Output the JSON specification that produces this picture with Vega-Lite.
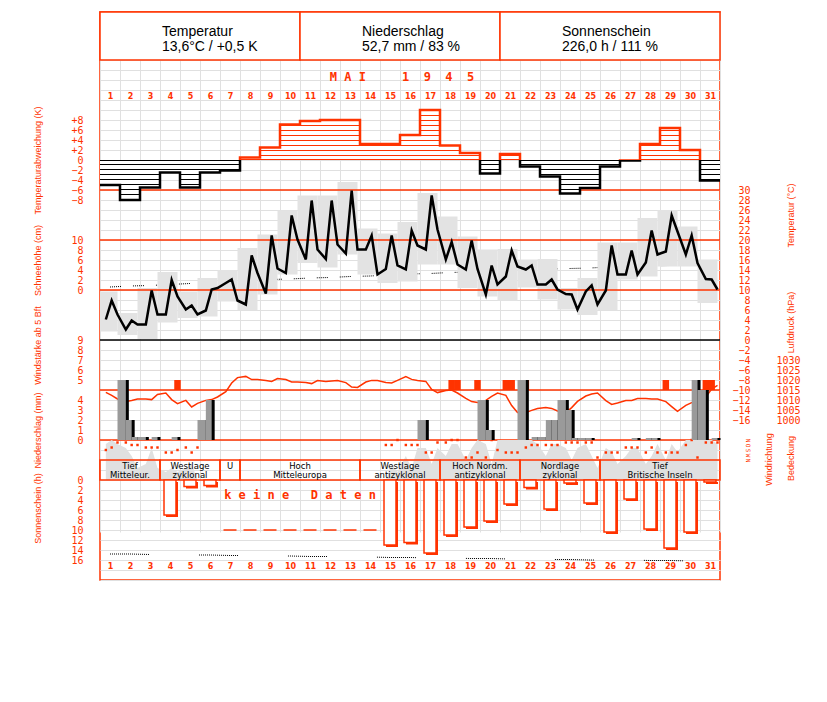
{
"$schema": "https://vega.github.io/schema/vega-lite/v6.json",
"width": 620, "height": 568,
"autosize": {"type": "none"},
"padding": {"left": 100, "top": 12, "right": 107, "bottom": 122},
"background": "white",
"title": {"text": "M A I\u00a0\u00a0\u00a0\u00a0\u00a01\u00a0\u00a09\u00a0\u00a04\u00a0\u00a05", "color": "#ff3300", "font": "DejaVu Sans Mono", "fontSize": 12, "fontWeight": "bold", "anchor": "middle", "frame": "group", "orient": "top", "offset": 0, "baseline": "middle", "dy": 78, "dx": -8},
"datasets": {
"daily": [
{"d":"1945-05-01T12:00","from":"1945-04-30T21:00","to":"1945-05-01T21:00","tmin":1.7,"tmax":9.7,"tnorm":10.6,"spot":14.8},
{"d":"1945-05-02T12:00","from":"1945-05-01T21:00","to":"1945-05-02T21:00","tmin":1.0,"tmax":5.4,"tnorm":10.8,"spot":14.8},
{"d":"1945-05-03T12:00","from":"1945-05-02T21:00","to":"1945-05-03T21:00","tmin":0.2,"tmax":10.4,"tnorm":10.9,"spot":14.9},
{"d":"1945-05-04T12:00","from":"1945-05-03T21:00","to":"1945-05-04T21:00","tmin":3.5,"tmax":13.6,"tnorm":11.1,"spot":14.9},
{"d":"1945-05-05T12:00","from":"1945-05-04T21:00","to":"1945-05-05T21:00","tmin":4.4,"tmax":9.7,"tnorm":11.3,"spot":15.0},
{"d":"1945-05-06T12:00","from":"1945-05-05T21:00","to":"1945-05-06T21:00","tmin":4.7,"tmax":12.4,"tnorm":11.5,"spot":15.0},
{"d":"1945-05-07T12:00","from":"1945-05-06T21:00","to":"1945-05-07T21:00","tmin":7.7,"tmax":14.0,"tnorm":11.7,"spot":15.1},
{"d":"1945-05-08T12:00","from":"1945-05-07T21:00","to":"1945-05-08T21:00","tmin":6.0,"tmax":18.4,"tnorm":11.9,"spot":15.1},
{"d":"1945-05-09T12:00","from":"1945-05-08T21:00","to":"1945-05-09T21:00","tmin":9.1,"tmax":21.1,"tnorm":12.1,"spot":15.2},
{"d":"1945-05-10T12:00","from":"1945-05-09T21:00","to":"1945-05-10T21:00","tmin":13.1,"tmax":25.9,"tnorm":12.2,"spot":15.2},
{"d":"1945-05-11T12:00","from":"1945-05-10T21:00","to":"1945-05-11T21:00","tmin":15.4,"tmax":28.9,"tnorm":12.4,"spot":15.3},
{"d":"1945-05-12T12:00","from":"1945-05-11T21:00","to":"1945-05-12T21:00","tmin":14.5,"tmax":28.9,"tnorm":12.5,"spot":15.3},
{"d":"1945-05-13T12:00","from":"1945-05-12T21:00","to":"1945-05-13T21:00","tmin":17.1,"tmax":31.6,"tnorm":12.7,"spot":15.4},
{"d":"1945-05-14T12:00","from":"1945-05-13T21:00","to":"1945-05-14T21:00","tmin":13.1,"tmax":22.3,"tnorm":12.8,"spot":15.4},
{"d":"1945-05-15T12:00","from":"1945-05-14T21:00","to":"1945-05-15T21:00","tmin":11.4,"tmax":21.3,"tnorm":13.0,"spot":15.5},
{"d":"1945-05-16T12:00","from":"1945-05-15T21:00","to":"1945-05-16T21:00","tmin":11.7,"tmax":23.6,"tnorm":13.2,"spot":15.5},
{"d":"1945-05-17T12:00","from":"1945-05-16T21:00","to":"1945-05-17T21:00","tmin":15.1,"tmax":29.4,"tnorm":13.3,"spot":15.6},
{"d":"1945-05-18T12:00","from":"1945-05-17T21:00","to":"1945-05-18T21:00","tmin":15.1,"tmax":24.7,"tnorm":13.5,"spot":15.6},
{"d":"1945-05-19T12:00","from":"1945-05-18T21:00","to":"1945-05-19T21:00","tmin":10.4,"tmax":20.7,"tnorm":13.6,"spot":15.7},
{"d":"1945-05-20T12:00","from":"1945-05-19T21:00","to":"1945-05-20T21:00","tmin":8.7,"tmax":18.1,"tnorm":13.8,"spot":15.7},
{"d":"1945-05-21T12:00","from":"1945-05-20T21:00","to":"1945-05-21T21:00","tmin":7.9,"tmax":18.2,"tnorm":13.9,"spot":15.8},
{"d":"1945-05-22T12:00","from":"1945-05-21T21:00","to":"1945-05-22T21:00","tmin":10.5,"tmax":16.1,"tnorm":14.1,"spot":15.8},
{"d":"1945-05-23T12:00","from":"1945-05-22T21:00","to":"1945-05-23T21:00","tmin":8.1,"tmax":16.2,"tnorm":14.2,"spot":15.9},
{"d":"1945-05-24T12:00","from":"1945-05-23T21:00","to":"1945-05-24T21:00","tmin":6.1,"tmax":10.4,"tnorm":14.3,"spot":15.9},
{"d":"1945-05-25T12:00","from":"1945-05-24T21:00","to":"1945-05-25T21:00","tmin":5.0,"tmax":12.4,"tnorm":14.4,"spot":16.0},
{"d":"1945-05-26T12:00","from":"1945-05-25T21:00","to":"1945-05-26T21:00","tmin":6.0,"tmax":19.5,"tnorm":14.6,"spot":16.0},
{"d":"1945-05-27T12:00","from":"1945-05-26T21:00","to":"1945-05-27T21:00","tmin":12.1,"tmax":19.5,"tnorm":14.6,"spot":16.0},
{"d":"1945-05-28T12:00","from":"1945-05-27T21:00","to":"1945-05-28T21:00","tmin":12.7,"tmax":24.4,"tnorm":14.8,"spot":16.1},
{"d":"1945-05-29T12:00","from":"1945-05-28T21:00","to":"1945-05-29T21:00","tmin":14.7,"tmax":26.0,"tnorm":14.9,"spot":16.1},
{"d":"1945-05-30T12:00","from":"1945-05-29T21:00","to":"1945-05-30T21:00","tmin":14.7,"tmax":22.7,"tnorm":15.0,"spot":16.2},
{"d":"1945-05-31T12:00","from":"1945-05-30T21:00","to":"1945-05-31T21:00","tmin":7.4,"tmax":16.1,"tnorm":15.1,"spot":16.2}
],
"anom": [
{"t":"1945-05-01T00:00","k":-5.0},
{"t":"1945-05-01T12:00","k":-5.0},{"t":"1945-05-02T12:00","k":-8.0},{"t":"1945-05-03T12:00","k":-5.5},{"t":"1945-05-04T12:00","k":-2.5},
{"t":"1945-05-05T12:00","k":-5.5},{"t":"1945-05-06T12:00","k":-2.5},{"t":"1945-05-07T12:00","k":-2.1},{"t":"1945-05-08T12:00","k":0.5},
{"t":"1945-05-09T12:00","k":2.5},{"t":"1945-05-10T12:00","k":7.1},{"t":"1945-05-11T12:00","k":7.8},{"t":"1945-05-12T12:00","k":8.0},
{"t":"1945-05-13T12:00","k":8.0},{"t":"1945-05-14T12:00","k":3.2},{"t":"1945-05-15T12:00","k":3.2},{"t":"1945-05-16T12:00","k":5.0},
{"t":"1945-05-17T12:00","k":10.0},{"t":"1945-05-18T12:00","k":2.9},{"t":"1945-05-19T12:00","k":1.4},{"t":"1945-05-20T12:00","k":-2.7},
{"t":"1945-05-21T12:00","k":1.2},{"t":"1945-05-22T12:00","k":-1.3},{"t":"1945-05-23T12:00","k":-3.3},{"t":"1945-05-24T12:00","k":-6.7},
{"t":"1945-05-25T12:00","k":-5.6},{"t":"1945-05-26T12:00","k":-1.3},{"t":"1945-05-27T12:00","k":-0.1},{"t":"1945-05-28T12:00","k":3.2},
{"t":"1945-05-29T12:00","k":6.4},{"t":"1945-05-30T12:00","k":2.0},{"t":"1945-05-31T12:00","k":-4.1},
{"t":"1945-06-01T00:00","k":-4.1}
],
"obs": [
{"t":"1945-05-01T07:00","temp":4.1,"hpa":1013.8},{"t":"1945-05-01T14:00","temp":7.9,"hpa":1012.3},{"t":"1945-05-01T21:00","temp":5.1,"hpa":1010.5},
{"t":"1945-05-02T07:00","temp":2.1,"hpa":1009.3},{"t":"1945-05-02T14:00","temp":3.9,"hpa":1009.8},{"t":"1945-05-02T21:00","temp":3.1,"hpa":1010.5},
{"t":"1945-05-03T07:00","temp":3.1,"hpa":1010.5},{"t":"1945-05-03T14:00","temp":9.9,"hpa":1010.2},{"t":"1945-05-03T21:00","temp":5.1,"hpa":1012.8},
{"t":"1945-05-04T07:00","temp":5.1,"hpa":1013.5},{"t":"1945-05-04T14:00","temp":12.0,"hpa":1010.2},{"t":"1945-05-04T21:00","temp":8.7,"hpa":1008.2},
{"t":"1945-05-05T07:00","temp":6.1,"hpa":1009.8},{"t":"1945-05-05T14:00","temp":6.9,"hpa":1006.5},{"t":"1945-05-05T21:00","temp":5.1,"hpa":1008.3},
{"t":"1945-05-06T07:00","temp":5.9,"hpa":1009.8},{"t":"1945-05-06T14:00","temp":10.1,"hpa":1010.2},{"t":"1945-05-06T21:00","temp":10.4,"hpa":1011.5},
{"t":"1945-05-07T07:00","temp":11.4,"hpa":1014.2},{"t":"1945-05-07T14:00","temp":12.1,"hpa":1018.5},{"t":"1945-05-07T21:00","temp":7.9,"hpa":1021.2},
{"t":"1945-05-08T07:00","temp":7.1,"hpa":1021.8},{"t":"1945-05-08T14:00","temp":16.9,"hpa":1020.2},{"t":"1945-05-08T21:00","temp":13.4,"hpa":1020.2},
{"t":"1945-05-09T07:00","temp":9.3,"hpa":1019.8},{"t":"1945-05-09T14:00","temp":20.9,"hpa":1019.3},{"t":"1945-05-09T21:00","temp":14.3,"hpa":1020.7},
{"t":"1945-05-10T07:00","temp":13.4,"hpa":1020.2},{"t":"1945-05-10T14:00","temp":24.9,"hpa":1019.0},{"t":"1945-05-10T21:00","temp":20.1,"hpa":1019.0},
{"t":"1945-05-11T07:00","temp":16.1,"hpa":1018.8},{"t":"1945-05-11T14:00","temp":27.9,"hpa":1018.2},{"t":"1945-05-11T21:00","temp":18.1,"hpa":1019.7},
{"t":"1945-05-12T07:00","temp":16.2,"hpa":1019.2},{"t":"1945-05-12T14:00","temp":27.9,"hpa":1019.5},{"t":"1945-05-12T21:00","temp":19.1,"hpa":1019.8},
{"t":"1945-05-13T07:00","temp":17.3,"hpa":1018.7},{"t":"1945-05-13T14:00","temp":29.9,"hpa":1016.5},{"t":"1945-05-13T21:00","temp":18.1,"hpa":1016.3},
{"t":"1945-05-14T07:00","temp":18.1,"hpa":1019.0},{"t":"1945-05-14T14:00","temp":20.9,"hpa":1019.8},{"t":"1945-05-14T21:00","temp":13.1,"hpa":1019.8},
{"t":"1945-05-15T07:00","temp":14.2,"hpa":1018.8},{"t":"1945-05-15T14:00","temp":20.9,"hpa":1018.5},{"t":"1945-05-15T21:00","temp":14.9,"hpa":1019.8},
{"t":"1945-05-16T07:00","temp":14.1,"hpa":1021.7},{"t":"1945-05-16T14:00","temp":21.9,"hpa":1020.3},{"t":"1945-05-16T21:00","temp":18.9,"hpa":1019.8},
{"t":"1945-05-17T07:00","temp":18.1,"hpa":1019.3},{"t":"1945-05-17T14:00","temp":28.9,"hpa":1015.3},{"t":"1945-05-17T21:00","temp":22.1,"hpa":1013.7},
{"t":"1945-05-18T07:00","temp":16.1,"hpa":1014.8},{"t":"1945-05-18T14:00","temp":19.6,"hpa":1015.0},{"t":"1945-05-18T21:00","temp":15.1,"hpa":1013.5},
{"t":"1945-05-19T07:00","temp":14.1,"hpa":1010.8},{"t":"1945-05-19T14:00","temp":19.9,"hpa":1009.2},{"t":"1945-05-19T21:00","temp":14.2,"hpa":1008.8},
{"t":"1945-05-20T07:00","temp":9.1,"hpa":1009.8},{"t":"1945-05-20T14:00","temp":14.9,"hpa":1011.8},{"t":"1945-05-20T21:00","temp":11.1,"hpa":1013.5},
{"t":"1945-05-21T07:00","temp":12.7,"hpa":1012.3},{"t":"1945-05-21T14:00","temp":17.9,"hpa":1007.2},{"t":"1945-05-21T21:00","temp":14.7,"hpa":1003.7},
{"t":"1945-05-22T07:00","temp":14.1,"hpa":1003.7},{"t":"1945-05-22T14:00","temp":14.9,"hpa":1004.8},{"t":"1945-05-22T21:00","temp":11.1,"hpa":1005.7},
{"t":"1945-05-23T07:00","temp":11.1,"hpa":1006.3},{"t":"1945-05-23T14:00","temp":12.1,"hpa":1005.8},{"t":"1945-05-23T21:00","temp":10.1,"hpa":1004.5},
{"t":"1945-05-24T07:00","temp":9.2,"hpa":1003.7},{"t":"1945-05-24T14:00","temp":9.1,"hpa":1006.2},{"t":"1945-05-24T21:00","temp":6.1,"hpa":1009.3},
{"t":"1945-05-25T07:00","temp":9.7,"hpa":1012.0},{"t":"1945-05-25T14:00","temp":10.9,"hpa":1013.0},{"t":"1945-05-25T21:00","temp":7.1,"hpa":1013.5},
{"t":"1945-05-26T07:00","temp":9.9,"hpa":1009.7},{"t":"1945-05-26T14:00","temp":18.9,"hpa":1007.8},{"t":"1945-05-26T21:00","temp":13.1,"hpa":1008.5},
{"t":"1945-05-27T07:00","temp":13.1,"hpa":1009.7},{"t":"1945-05-27T14:00","temp":17.9,"hpa":1009.8},{"t":"1945-05-27T21:00","temp":13.1,"hpa":1010.7},
{"t":"1945-05-28T07:00","temp":15.5,"hpa":1010.7},{"t":"1945-05-28T14:00","temp":21.9,"hpa":1010.5},{"t":"1945-05-28T21:00","temp":17.1,"hpa":1010.5},
{"t":"1945-05-29T07:00","temp":17.7,"hpa":1009.2},{"t":"1945-05-29T14:00","temp":24.9,"hpa":1006.7},{"t":"1945-05-29T21:00","temp":21.7,"hpa":1004.3},
{"t":"1945-05-30T07:00","temp":17.1,"hpa":1007.3},{"t":"1945-05-30T14:00","temp":20.9,"hpa":1008.7},{"t":"1945-05-30T21:00","temp":15.4,"hpa":1009.3},
{"t":"1945-05-31T07:00","temp":12.2,"hpa":1011.5},{"t":"1945-05-31T14:00","temp":12.1,"hpa":1015.5},{"t":"1945-05-31T21:00","temp":10.1,"hpa":1017.3}
],
"cw": [
{"t":"1945-05-01T07:00","dir":180,"cloud":9},{"t":"1945-05-01T14:00","dir":135,"cloud":10},{"t":"1945-05-01T21:00","dir":45,"cloud":9},
{"t":"1945-05-02T07:00","dir":45,"cloud":8},{"t":"1945-05-02T14:00","dir":90,"cloud":6},{"t":"1945-05-02T21:00","dir":90,"cloud":3},
{"t":"1945-05-03T07:00","dir":135,"cloud":4},{"t":"1945-05-03T14:00","dir":135,"cloud":8},{"t":"1945-05-03T21:00","dir":135,"cloud":3},
{"t":"1945-05-04T07:00","dir":225,"cloud":2},{"t":"1945-05-04T14:00","dir":225,"cloud":3},{"t":"1945-05-04T21:00","dir":180,"cloud":2},
{"t":"1945-05-05T07:00","dir":135,"cloud":3},{"t":"1945-05-05T14:00","dir":225,"cloud":4},{"t":"1945-05-05T21:00","dir":135,"cloud":0},
{"t":"1945-05-15T07:00","dir":90,"cloud":0},{"t":"1945-05-15T14:00","dir":90,"cloud":4},{"t":"1945-05-15T21:00","dir":0,"cloud":2},
{"t":"1945-05-16T07:00","dir":90,"cloud":6},{"t":"1945-05-16T14:00","dir":90,"cloud":3},{"t":"1945-05-16T21:00","dir":90,"cloud":8},
{"t":"1945-05-17T07:00","dir":225,"cloud":8},{"t":"1945-05-17T14:00","dir":225,"cloud":4},{"t":"1945-05-17T21:00","dir":45,"cloud":8},
{"t":"1945-05-18T07:00","dir":45,"cloud":6},{"t":"1945-05-18T14:00","dir":0,"cloud":9},{"t":"1945-05-18T21:00","dir":0,"cloud":9},
{"t":"1945-05-19T07:00","dir":315,"cloud":5},{"t":"1945-05-19T14:00","dir":315,"cloud":8},{"t":"1945-05-19T21:00","dir":225,"cloud":10},
{"t":"1945-05-20T07:00","dir":315,"cloud":9},{"t":"1945-05-20T14:00","dir":0,"cloud":4},{"t":"1945-05-20T21:00","dir":180,"cloud":10},
{"t":"1945-05-21T07:00","dir":225,"cloud":10},{"t":"1945-05-21T14:00","dir":225,"cloud":10},{"t":"1945-05-21T21:00","dir":225,"cloud":10},
{"t":"1945-05-22T07:00","dir":135,"cloud":10},{"t":"1945-05-22T14:00","dir":90,"cloud":10},{"t":"1945-05-22T21:00","dir":90,"cloud":9},
{"t":"1945-05-23T07:00","dir":90,"cloud":6},{"t":"1945-05-23T14:00","dir":90,"cloud":9},{"t":"1945-05-23T21:00","dir":90,"cloud":9},
{"t":"1945-05-24T07:00","dir":45,"cloud":8},{"t":"1945-05-24T14:00","dir":45,"cloud":5},{"t":"1945-05-24T21:00","dir":45,"cloud":8},
{"t":"1945-05-25T07:00","dir":45,"cloud":9},{"t":"1945-05-25T14:00","dir":45,"cloud":6},{"t":"1945-05-25T21:00","dir":315,"cloud":3},
{"t":"1945-05-26T07:00","dir":225,"cloud":8},{"t":"1945-05-26T14:00","dir":225,"cloud":7},{"t":"1945-05-26T21:00","dir":225,"cloud":4},
{"t":"1945-05-27T07:00","dir":135,"cloud":6},{"t":"1945-05-27T14:00","dir":135,"cloud":8},{"t":"1945-05-27T21:00","dir":135,"cloud":8},
{"t":"1945-05-28T07:00","dir":225,"cloud":4},{"t":"1945-05-28T14:00","dir":135,"cloud":6},{"t":"1945-05-28T21:00","dir":225,"cloud":9},
{"t":"1945-05-29T07:00","dir":225,"cloud":5},{"t":"1945-05-29T14:00","dir":225,"cloud":9},{"t":"1945-05-29T21:00","dir":225,"cloud":7},
{"t":"1945-05-30T07:00","dir":90,"cloud":10},{"t":"1945-05-30T14:00","dir":0,"cloud":10},{"t":"1945-05-30T21:00","dir":315,"cloud":10},
{"t":"1945-05-31T07:00","dir":45,"cloud":10},{"t":"1945-05-31T14:00","dir":45,"cloud":10},{"t":"1945-05-31T21:00","dir":45,"cloud":9}
],
"precip": [
{"from":"1945-05-01T21:00","to":"1945-05-02T07:00","mm":6.3},
{"from":"1945-05-02T07:00","to":"1945-05-02T14:00","mm":2.0},
{"from":"1945-05-02T14:00","to":"1945-05-02T21:00","mm":0.3},
{"from":"1945-05-02T21:00","to":"1945-05-03T07:00","mm":0.3},
{"from":"1945-05-03T14:00","to":"1945-05-03T21:00","mm":0.3},
{"from":"1945-05-04T14:00","to":"1945-05-04T21:00","mm":0.3},
{"from":"1945-05-05T21:00","to":"1945-05-06T07:00","mm":2.0},
{"from":"1945-05-06T07:00","to":"1945-05-06T14:00","mm":4.0},
{"from":"1945-05-16T21:00","to":"1945-05-17T07:00","mm":2.0},
{"from":"1945-05-19T21:00","to":"1945-05-20T07:00","mm":4.0},
{"from":"1945-05-20T07:00","to":"1945-05-20T14:00","mm":1.0},
{"from":"1945-05-21T21:00","to":"1945-05-22T07:00","mm":6.2},
{"from":"1945-05-22T14:00","to":"1945-05-22T21:00","mm":0.3},
{"from":"1945-05-22T21:00","to":"1945-05-23T07:00","mm":0.3},
{"from":"1945-05-23T07:00","to":"1945-05-23T14:00","mm":2.0},
{"from":"1945-05-23T14:00","to":"1945-05-23T21:00","mm":2.0},
{"from":"1945-05-23T21:00","to":"1945-05-24T07:00","mm":4.0},
{"from":"1945-05-24T07:00","to":"1945-05-24T14:00","mm":3.0},
{"from":"1945-05-24T14:00","to":"1945-05-24T21:00","mm":0.2},
{"from":"1945-05-24T21:00","to":"1945-05-25T07:00","mm":0.2},
{"from":"1945-05-25T07:00","to":"1945-05-25T14:00","mm":0.2},
{"from":"1945-05-27T14:00","to":"1945-05-27T21:00","mm":0.2},
{"from":"1945-05-28T07:00","to":"1945-05-28T14:00","mm":0.2},
{"from":"1945-05-28T14:00","to":"1945-05-28T21:00","mm":0.2},
{"from":"1945-05-30T14:00","to":"1945-05-30T21:00","mm":6.3},
{"from":"1945-05-30T21:00","to":"1945-05-31T07:00","mm":5.0},
{"from":"1945-05-31T14:00","to":"1945-05-31T21:00","mm":0.2}
],
"wind": [
{"t":"1945-05-04T21:00","bft":5},{"t":"1945-05-18T14:00","bft":5},{"t":"1945-05-18T21:00","bft":5},{"t":"1945-05-19T21:00","bft":5},
{"t":"1945-05-21T07:00","bft":5},{"t":"1945-05-21T14:00","bft":5},{"t":"1945-05-22T07:00","bft":5},{"t":"1945-05-29T07:00","bft":5},
{"t":"1945-05-31T07:00","bft":5},{"t":"1945-05-31T14:00","bft":5}
],
"sun": [
{"d":"1945-05-04T12:00","h":7.0},{"d":"1945-05-05T12:00","h":1.3},{"d":"1945-05-06T12:00","h":1.1},
{"d":"1945-05-15T12:00","h":13.0},{"d":"1945-05-16T12:00","h":12.5},{"d":"1945-05-17T12:00","h":14.6},{"d":"1945-05-18T12:00","h":11.0},
{"d":"1945-05-19T12:00","h":9.4},{"d":"1945-05-20T12:00","h":8.2},{"d":"1945-05-21T12:00","h":4.8},{"d":"1945-05-22T12:00","h":1.5},
{"d":"1945-05-23T12:00","h":5.8},{"d":"1945-05-24T12:00","h":0.6},{"d":"1945-05-25T12:00","h":4.6},{"d":"1945-05-26T12:00","h":10.4},
{"d":"1945-05-27T12:00","h":3.8},{"d":"1945-05-28T12:00","h":9.8},{"d":"1945-05-29T12:00","h":13.6},{"d":"1945-05-30T12:00","h":10.4},
{"d":"1945-05-31T12:00","h":0.4}
],
"nodata": [
{"d":"1945-05-07T12:00","h":10},{"d":"1945-05-08T12:00","h":10},{"d":"1945-05-09T12:00","h":10},{"d":"1945-05-10T12:00","h":10},
{"d":"1945-05-11T12:00","h":10},{"d":"1945-05-12T12:00","h":10},{"d":"1945-05-13T12:00","h":10},{"d":"1945-05-14T12:00","h":10}
],
"gwl": [
{"start":"1945-05-01T00:00","end":"1945-05-04T00:00","label":"Tief\nMitteleur."},
{"start":"1945-05-04T00:00","end":"1945-05-07T00:00","label":"Westlage\nzyklonal"},
{"start":"1945-05-07T00:00","end":"1945-05-08T00:00","label":"U\n\u00a0"},
{"start":"1945-05-08T00:00","end":"1945-05-14T00:00","label":"Hoch\nMitteleuropa"},
{"start":"1945-05-14T00:00","end":"1945-05-18T00:00","label":"Westlage\nantizyklonal"},
{"start":"1945-05-18T00:00","end":"1945-05-22T00:00","label":"Hoch Nordm.\nantizyklonal"},
{"start":"1945-05-22T00:00","end":"1945-05-26T00:00","label":"Nordlage\nzyklonal"},
{"start":"1945-05-26T00:00","end":"1945-06-01T00:00","label":"Tief\nBritische Inseln"}
],
"header": [
{"start":"1945-05-01T00:00","end":"1945-05-11T00:00","label":"Temperatur\n13,6°C / +0,5 K"},
{"start":"1945-05-11T00:00","end":"1945-05-21T00:00","label":"Niederschlag\n52,7 mm / 83 %"},
{"start":"1945-05-21T00:00","end":"1945-06-01T00:00","label":"Sonnenschein\n226,0 h / 111 %"}
],
"snowref": [{"cm":0},{"cm":10}],
"precref": [{"mm":0},{"mm":5}]
},
"resolve": {"scale": {"y": "independent"}, "axis": {"x": "independent", "y": "independent"}},
"layer": [
{
 "data": {"name": "daily"},
 "mark": {"type": "line", "stroke": "black", "strokeWidth": 1, "strokeDash": [1,1,1,1,1,1,1,1,1,1,1,12]},
 "encoding": {
  "x": {"field": "d", "type": "temporal", "scale": {"domain": [{"year":1945,"month":5,"date":1},{"year":1945,"month":6,"date":1}], "padding": 0},
        "axis": {"orient": "bottom", "grid": true, "gridColor": "#e0e0e0", "gridWidth": 1, "labels": false, "tickCount": {"interval": "day", "step": 1}, "title": null}},
  "y": {"field": "tnorm", "type": "quantitative", "scale": {"domain": [-48,56], "range": [568,48], "nice": false, "zero": false},
        "axis": {"orient": "right", "grid": true, "gridColor": "#e0e0e0", "gridWidth": 1,
                 "values": [-48,-46,-44,-42,-40,-38,-36,-34,-32,-30,-28,-26,-24,-22,-20,-18,-16,-14,-12,-10,-8,-6,-4,-2,0,2,4,6,8,10,12,14,16,18,20,22,24,26,28,30,32,34,36,38,40,42,44,46,48,50,52,54,56],
                 "labelExpr": "datum.value >= -16 && datum.value <= 30 ? datum.label : ''",
                 "labelAlign": "right", "labelPadding": 30, "labelBaseline": "middle",
                 "title": "Temperatur (°C)", "titleX": 70, "titleY": 203}}
 }
},
{
 "data": {"name": "daily"},
 "mark": {"type": "rect", "fill": "#e3e3e3", "clip": true},
 "encoding": {
  "x": {"field": "from", "type": "temporal", "scale": {"domain": [{"year":1945,"month":5,"date":1},{"year":1945,"month":6,"date":1}], "padding": 0},
        "axis": {"orient": "bottom", "offset": -14, "tickCount": {"interval": "day", "step": 1}, "format": "%-d",
                 "labelExpr": "datum.value >= datetime(1945,5,1) ? '' : datum.label",
                 "labelOffset": 10, "labelAlign": "center", "labelBaseline": "middle", "labelPadding": 0,
                 "labelFont": "DejaVu Sans", "labelFontSize": 8, "labelFontWeight": "bold", "labelFlush": false, "title": null}},
  "x2": {"field": "to"},
  "y": {"field": "tmin", "type": "quantitative", "scale": {"domain": [-48,56], "range": [568,48], "nice": false, "zero": false}, "axis": null},
  "y2": {"field": "tmax"}
 }
},
{
 "data": {"values": [{}]},
 "mark": {"type": "rule", "color": "#ff3300", "strokeWidth": 1.5},
 "encoding": {"y": {"datum": 30, "scale": {"domain": [-48,56], "range": [568,48], "nice": false, "zero": false}, "axis": null}}
},
{
 "data": {"values": [{}]},
 "mark": {"type": "rule", "color": "black", "strokeWidth": 1.5},
 "encoding": {"y": {"datum": 0, "scale": {"domain": [-48,56], "range": [568,48], "nice": false, "zero": false}, "axis": null}}
},
{
 "data": {"name": "snowref"},
 "mark": {"type": "rule", "color": "#ff3300", "strokeWidth": 1.5},
 "encoding": {"y": {"field": "cm", "type": "quantitative", "scale": {"domain": [0,10], "range": [278,228], "nice": false, "zero": false},
   "axis": {"orient": "left", "values": [0,2,4,6,8,10], "title": "Schneehöhe (cm)", "titleX": -63, "titleY": 248}}}
},
{
 "data": {"name": "precref"},
 "mark": {"type": "rule", "color": "#ff3300", "strokeWidth": 1.5},
 "encoding": {"y": {"field": "mm", "type": "quantitative", "scale": {"domain": [0,6], "range": [428,368], "nice": false, "zero": false}, "axis": null}}
},
{
 "data": {"name": "anom"},
 "mark": {"type": "area", "interpolate": "step",
   "fill": {"gradient": "linear", "x1": 0, "y1": 0, "x2": 0, "y2": 1, "stops": [
    {"offset": 0, "color": "white"},
    {"offset": 0.0556, "color": "white"}, {"offset": 0.0556, "color": "#ff3300"}, {"offset": 0.0667, "color": "#ff3300"}, {"offset": 0.0667, "color": "white"},
    {"offset": 0.1111, "color": "white"}, {"offset": 0.1111, "color": "#ff3300"}, {"offset": 0.1222, "color": "#ff3300"}, {"offset": 0.1222, "color": "white"},
    {"offset": 0.1667, "color": "white"}, {"offset": 0.1667, "color": "#ff3300"}, {"offset": 0.1778, "color": "#ff3300"}, {"offset": 0.1778, "color": "white"},
    {"offset": 0.2222, "color": "white"}, {"offset": 0.2222, "color": "#ff3300"}, {"offset": 0.2333, "color": "#ff3300"}, {"offset": 0.2333, "color": "white"},
    {"offset": 0.2778, "color": "white"}, {"offset": 0.2778, "color": "#ff3300"}, {"offset": 0.2889, "color": "#ff3300"}, {"offset": 0.2889, "color": "white"},
    {"offset": 0.3333, "color": "white"}, {"offset": 0.3333, "color": "#ff3300"}, {"offset": 0.3444, "color": "#ff3300"}, {"offset": 0.3444, "color": "white"},
    {"offset": 0.3889, "color": "white"}, {"offset": 0.3889, "color": "#ff3300"}, {"offset": 0.4, "color": "#ff3300"}, {"offset": 0.4, "color": "white"},
    {"offset": 0.4444, "color": "white"}, {"offset": 0.4444, "color": "#ff3300"}, {"offset": 0.4556, "color": "#ff3300"}, {"offset": 0.4556, "color": "white"},
    {"offset": 0.5, "color": "white"}, {"offset": 0.5, "color": "#ff3300"}, {"offset": 0.5111, "color": "#ff3300"}, {"offset": 0.5111, "color": "white"},
    {"offset": 0.5444, "color": "white"}, {"offset": 0.5444, "color": "#ff3300"}, {"offset": 0.5556, "color": "#ff3300"}, {"offset": 0.5556, "color": "black"}, {"offset": 0.5667, "color": "black"}, {"offset": 0.5667, "color": "white"},
    {"offset": 0.6, "color": "white"}, {"offset": 0.6, "color": "black"}, {"offset": 0.6111, "color": "black"}, {"offset": 0.6111, "color": "white"},
    {"offset": 0.6556, "color": "white"}, {"offset": 0.6556, "color": "black"}, {"offset": 0.6667, "color": "black"}, {"offset": 0.6667, "color": "white"},
    {"offset": 0.7111, "color": "white"}, {"offset": 0.7111, "color": "black"}, {"offset": 0.7222, "color": "black"}, {"offset": 0.7222, "color": "white"},
    {"offset": 0.7667, "color": "white"}, {"offset": 0.7667, "color": "black"}, {"offset": 0.7778, "color": "black"}, {"offset": 0.7778, "color": "white"},
    {"offset": 0.8222, "color": "white"}, {"offset": 0.8222, "color": "black"}, {"offset": 0.8333, "color": "black"}, {"offset": 0.8333, "color": "white"},
    {"offset": 0.8778, "color": "white"}, {"offset": 0.8778, "color": "black"}, {"offset": 0.8889, "color": "black"}, {"offset": 0.8889, "color": "white"},
    {"offset": 0.9333, "color": "white"}, {"offset": 0.9333, "color": "black"}, {"offset": 0.9444, "color": "black"}, {"offset": 0.9444, "color": "white"},
    {"offset": 1, "color": "white"}]}},
 "encoding": {
  "x": {"field": "t", "type": "temporal", "scale": {"domain": [{"year":1945,"month":5,"date":1},{"year":1945,"month":6,"date":1}], "padding": 0}, "axis": null},
  "y": {"field": "k", "type": "quantitative", "scale": {"domain": [-8,10], "range": [188,98], "nice": false, "zero": false},
        "axis": {"orient": "left", "values": [-8,-6,-4,-2,0,2,4,6,8], "labelExpr": "datum.value > 0 ? '+' + datum.label : datum.label",
                 "title": "Temperaturabweichung (K)", "titleX": -63, "titleY": 148}},
  "y2": {"datum": 0}
 }
},
{
 "data": {"name": "anom"},
 "mark": {"type": "line", "interpolate": "step", "strokeWidth": 2.5,
   "stroke": {"gradient": "linear", "x1": 0, "y1": 0, "x2": 0, "y2": 1, "stops": [
     {"offset": 0, "color": "#ff3300"}, {"offset": 0.5556, "color": "#ff3300"}, {"offset": 0.5556, "color": "black"}, {"offset": 1, "color": "black"}]}},
 "encoding": {
  "x": {"field": "t", "type": "temporal", "scale": {"domain": [{"year":1945,"month":5,"date":1},{"year":1945,"month":6,"date":1}], "padding": 0}, "axis": null},
  "y": {"field": "k", "type": "quantitative", "scale": {"domain": [-8,10], "range": [188,98], "nice": false, "zero": false}, "axis": null}
 }
},
{
 "data": {"name": "obs"},
 "mark": {"type": "line", "stroke": "black", "strokeWidth": 2.5},
 "encoding": {
  "x": {"field": "t", "type": "temporal", "scale": {"domain": [{"year":1945,"month":5,"date":1},{"year":1945,"month":6,"date":1}], "padding": 0},
        "axis": {"orient": "top", "offset": -84, "tickCount": {"interval": "day", "step": 1}, "format": "%-d",
                 "labelExpr": "datum.value >= datetime(1945,5,1) ? '' : datum.label",
                 "labelOffset": 10, "labelAlign": "center", "labelBaseline": "middle", "labelPadding": 0,
                 "labelFont": "DejaVu Sans", "labelFontSize": 8, "labelFontWeight": "bold", "labelFlush": false, "title": null}},
  "y": {"field": "temp", "type": "quantitative", "scale": {"domain": [-48,56], "range": [568,48], "nice": false, "zero": false}, "axis": null}
 }
},
{
 "data": {"name": "cw"},
 "mark": {"type": "area", "fill": "#e0e0e0"},
 "encoding": {
  "x": {"field": "t", "type": "temporal", "scale": {"domain": [{"year":1945,"month":5,"date":1},{"year":1945,"month":6,"date":1}], "padding": 0}, "axis": null},
  "y": {"field": "cloud", "type": "quantitative", "scale": {"domain": [0,10], "range": [468,428], "nice": false, "zero": false},
        "axis": {"orient": "right", "labels": false, "title": "Bedeckung", "titleX": 70, "titleY": 446}},
  "y2": {"datum": 0}
 }
},
{
 "data": {"name": "cw"},
 "mark": {"type": "square", "size": 6, "color": "#ff3300", "opacity": 1},
 "encoding": {
  "x": {"field": "t", "type": "temporal", "scale": {"domain": [{"year":1945,"month":5,"date":1},{"year":1945,"month":6,"date":1}], "padding": 0}, "axis": null},
  "y": {"field": "dir", "type": "quantitative", "scale": {"domain": [0,360], "range": [428,448], "nice": false, "zero": false},
        "axis": {"orient": "right", "values": [0,90,180,270,360],
                 "labelExpr": "datum.value == 90 ? 'O' : datum.value == 180 ? 'S' : datum.value == 270 ? 'W' : 'N'",
                 "labelAngle": 90, "labelFontSize": 6, "labelPadding": 27, "labelAlign": "center", "labelBaseline": "middle",
                 "title": "Windrichtung", "titleX": 48, "titleY": 447}}
 }
},
{
 "data": {"name": "obs"},
 "mark": {"type": "line", "stroke": "#ff3300", "strokeWidth": 1.5},
 "encoding": {
  "x": {"field": "t", "type": "temporal", "scale": {"domain": [{"year":1945,"month":5,"date":1},{"year":1945,"month":6,"date":1}], "padding": 0}, "axis": null},
  "y": {"field": "hpa", "type": "quantitative", "scale": {"domain": [1000,1030], "range": [408,348], "nice": false, "zero": false},
        "axis": {"orient": "right", "values": [1000,1005,1010,1015,1020,1025,1030], "format": "d", "labelAlign": "right", "labelPadding": 80,
                 "title": "Luftdruck (hPa)", "titleX": 70, "titleY": 310}}
 }
},
{
 "data": {"name": "wind"},
 "mark": {"type": "bar", "width": 6.5, "color": "#ff3300"},
 "encoding": {
  "x": {"field": "t", "type": "temporal", "scale": {"domain": [{"year":1945,"month":5,"date":1},{"year":1945,"month":6,"date":1}], "padding": 0}, "axis": null},
  "y": {"field": "bft", "type": "quantitative", "scale": {"domain": [4,9], "range": [378,328], "nice": false, "zero": false},
        "axis": {"orient": "left", "values": [5,6,7,8,9], "title": "Windstärke ab 5 Bft", "titleX": -63, "titleY": 333}},
  "y2": {"datum": 4}
 }
},
{
 "data": {"name": "precip"},
 "mark": {"type": "bar", "color": "black", "xOffset": 3, "x2Offset": 3},
 "encoding": {
  "x": {"field": "from", "type": "temporal", "scale": {"domain": [{"year":1945,"month":5,"date":1},{"year":1945,"month":6,"date":1}], "padding": 0}, "axis": null},
  "x2": {"field": "to"},
  "y": {"field": "mm", "type": "quantitative", "scale": {"domain": [0,6], "range": [428,368], "nice": false, "zero": false, "clamp": true}, "axis": null},
  "y2": {"datum": 0}
 }
},
{
 "data": {"name": "precip"},
 "mark": {"type": "bar", "color": "#9a9a9a"},
 "encoding": {
  "x": {"field": "from", "type": "temporal", "scale": {"domain": [{"year":1945,"month":5,"date":1},{"year":1945,"month":6,"date":1}], "padding": 0}, "axis": null},
  "x2": {"field": "to"},
  "y": {"field": "mm", "type": "quantitative", "scale": {"domain": [0,6], "range": [428,368], "nice": false, "zero": false, "clamp": true},
        "axis": {"orient": "left", "values": [0,1,2,3,4], "title": "Niederschlag (mm)", "titleX": -63, "titleY": 418}},
  "y2": {"datum": 0}
 }
},
{
 "data": {"name": "gwl", "format": {"parse": {"start": "date", "end": "date"}}},
 "mark": {"type": "rect", "filled": false, "stroke": "#ff3300", "strokeWidth": 1.5},
 "encoding": {
  "x": {"field": "start", "type": "temporal", "scale": {"domain": [{"year":1945,"month":5,"date":1},{"year":1945,"month":6,"date":1}], "padding": 0}, "axis": null},
  "x2": {"field": "end"},
  "y": {"datum": "g", "type": "nominal", "scale": {"type": "band", "domain": ["g"], "range": [448,468], "paddingInner": 0, "paddingOuter": 0}, "axis": null}
 }
},
{
 "data": {"name": "gwl", "format": {"parse": {"start": "date", "end": "date"}}},
 "transform": [{"fold": ["start", "end"], "as": ["k", "v"]}, {"aggregate": [{"op": "mean", "field": "v", "as": "mid"}], "groupby": ["label"]}],
 "mark": {"type": "text", "lineBreak": "\n", "font": "DejaVu Sans", "fontSize": 8.5, "lineHeight": 9, "color": "black", "align": "center", "baseline": "middle", "dy": -4},
 "encoding": {
  "x": {"field": "mid", "type": "temporal", "scale": {"domain": [{"year":1945,"month":5,"date":1},{"year":1945,"month":6,"date":1}], "padding": 0}, "axis": null},
  "y": {"datum": "g", "type": "nominal", "scale": {"type": "band", "domain": ["g"], "range": [448,468], "paddingInner": 0, "paddingOuter": 0}, "axis": null},
  "text": {"field": "label"}
 }
},
{
 "data": {"name": "daily"},
 "mark": {"type": "line", "stroke": "black", "strokeWidth": 1, "strokeDash": [1,1,1,1,1,1,1,1,1,1,1,1,1,1,1,1,1,1,1,1,1,1,1,1,1,1,1,1,1,1,1,1,1,1,1,1,1,1,1,50]},
 "encoding": {
  "x": {"field": "d", "type": "temporal", "scale": {"domain": [{"year":1945,"month":5,"date":1},{"year":1945,"month":6,"date":1}], "padding": 0}, "axis": null},
  "y": {"field": "spot", "type": "quantitative", "scale": {"domain": [0,16], "range": [468,548], "nice": false, "zero": false}, "axis": null}
 }
},
{
 "data": {"name": "sun"},
 "mark": {"type": "bar", "width": 12, "color": "#ff3300", "xOffset": 2, "yOffset": 2, "y2Offset": 2},
 "encoding": {
  "x": {"field": "d", "type": "temporal", "scale": {"domain": [{"year":1945,"month":5,"date":1},{"year":1945,"month":6,"date":1}], "padding": 0}, "axis": null},
  "y": {"field": "h", "type": "quantitative", "scale": {"domain": [0,16], "range": [468,548], "nice": false, "zero": false}, "axis": null},
  "y2": {"datum": 0}
 }
},
{
 "data": {"name": "sun"},
 "mark": {"type": "bar", "width": 12, "fill": "white", "stroke": "#ff3300", "strokeWidth": 1.5},
 "encoding": {
  "x": {"field": "d", "type": "temporal", "scale": {"domain": [{"year":1945,"month":5,"date":1},{"year":1945,"month":6,"date":1}], "padding": 0}, "axis": null},
  "y": {"field": "h", "type": "quantitative", "scale": {"domain": [0,16], "range": [468,548], "nice": false, "zero": false},
        "axis": {"orient": "left", "values": [0,2,4,6,8,10,12,14,16], "title": "Sonnenschein (h)", "titleX": -63, "titleY": 496}},
  "y2": {"datum": 0}
 }
},
{
 "data": {"name": "nodata"},
 "mark": {"type": "tick", "orient": "horizontal", "size": 13, "thickness": 1.5, "color": "#ff3300", "opacity": 1},
 "encoding": {
  "x": {"field": "d", "type": "temporal", "scale": {"domain": [{"year":1945,"month":5,"date":1},{"year":1945,"month":6,"date":1}], "padding": 0}, "axis": null},
  "y": {"field": "h", "type": "quantitative", "scale": {"domain": [0,16], "range": [468,548], "nice": false, "zero": false}, "axis": null}
 }
},
{
 "data": {"values": [{"label": "k e i n e\u00a0\u00a0\u00a0D a t e n"}]},
 "mark": {"type": "text", "font": "DejaVu Sans Mono", "fontSize": 12, "fontWeight": "bold", "color": "#ff3300", "align": "center", "baseline": "middle"},
 "encoding": {
  "x": {"datum": {"year": 1945, "month": 5, "date": 11}, "type": "temporal", "scale": {"domain": [{"year":1945,"month":5,"date":1},{"year":1945,"month":6,"date":1}], "padding": 0}, "axis": null},
  "y": {"datum": 3, "type": "quantitative", "scale": {"domain": [0,16], "range": [468,548], "nice": false, "zero": false}, "axis": null},
  "text": {"field": "label"}
 }
},
{
 "data": {"name": "header", "format": {"parse": {"start": "date", "end": "date"}}},
 "mark": {"type": "rect", "fill": "white", "stroke": "#ff3300", "strokeWidth": 1.5},
 "encoding": {
  "x": {"field": "start", "type": "temporal", "scale": {"domain": [{"year":1945,"month":5,"date":1},{"year":1945,"month":6,"date":1}], "padding": 0}, "axis": null},
  "x2": {"field": "end"},
  "y": {"datum": "h", "type": "nominal", "scale": {"type": "band", "domain": ["h"], "range": [0,48], "paddingInner": 0, "paddingOuter": 0}, "axis": null}
 }
},
{
 "data": {"name": "header", "format": {"parse": {"start": "date", "end": "date"}}},
 "mark": {"type": "text", "lineBreak": "\n", "font": "Liberation Sans", "fontSize": 14, "lineHeight": 15, "color": "black", "align": "left", "baseline": "middle", "dx": 62, "dy": -4},
 "encoding": {
  "x": {"field": "start", "type": "temporal", "scale": {"domain": [{"year":1945,"month":5,"date":1},{"year":1945,"month":6,"date":1}], "padding": 0}, "axis": null},
  "y": {"datum": "h", "type": "nominal", "scale": {"type": "band", "domain": ["h"], "range": [0,48], "paddingInner": 0, "paddingOuter": 0}, "axis": null},
  "text": {"field": "label"}
 }
}
],
"config": {
 "view": {"stroke": "#ff3300", "strokeWidth": 1.5},
 "scale": {"continuousPadding": 0},
 "axis": {"domain": false, "ticks": false, "tickSize": 0, "grid": false, "labelColor": "#ff3300", "titleColor": "#ff3300",
          "labelFont": "DejaVu Sans Mono", "labelFontSize": 10, "titleFont": "Liberation Sans Narrow, Liberation Sans", "titleFontSize": 9,
          "titleFontWeight": "normal", "labelPadding": 17, "labelOverlap": false, "titleAngle": 270, "titleAlign": "center", "titleBaseline": "middle"}
}
}
